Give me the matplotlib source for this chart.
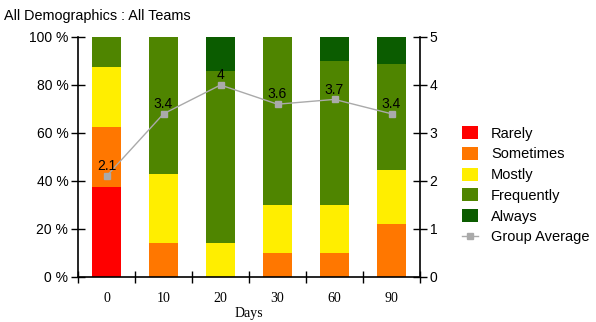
import matplotlib
matplotlib.use("Agg")
import matplotlib.pyplot as plt
import numpy as np
from matplotlib.lines import Line2D
from matplotlib.patches import Patch

days = ["0", "10", "20", "30", "60", "90"]
levels = ["Rarely", "Sometimes", "Mostly", "Frequently", "Always"]
rarely = [37.5, 0, 0, 0, 0, 0]
sometimes = [25.0, 14.3, 0, 10.0, 10.0, 22.2]
mostly = [25.0, 28.6, 14.3, 20.0, 20.0, 22.2]
frequently = [12.5, 57.1, 71.4, 70.0, 60.0, 44.5]
always = [0, 0, 14.3, 0, 10.0, 11.1]
group_avg = [2.1, 3.4, 4.0, 3.6, 3.7, 3.4]
avg_labels = ["2.1", "3.4", "4", "3.6", "3.7", "3.4"]

colors = ["#FF0000", "#FF7700", "#FFEE00", "#4F8500", "#0B5C00"]
line_color = "#AAAAAA"

plt.rcParams["font.family"] = ["Liberation Sans", "DejaVu Sans"]

fig = plt.figure(figsize=(5.96, 3.22), dpi=100)
ax = fig.add_axes([78 / 596, 1 - 277 / 322, 342 / 596, 240 / 322])

x = np.arange(len(days))
bottom = np.zeros(len(days))
for name, vals, c in zip(levels, [rarely, sometimes, mostly, frequently, always], colors):
    ax.bar(x, vals, width=0.5, bottom=bottom, color=c, label=name, zorder=2)
    bottom += np.array(vals)

ax.set_xlim(-0.5, len(days) - 0.5)
ax.set_ylim(0, 100)
ax.set_yticks(np.arange(0, 101, 20))
ax.set_yticklabels([f"{v} %" for v in range(0, 101, 20)], fontsize=10)
ax.set_xticks(x)
ax.set_xticklabels(days, fontfamily="Liberation Serif", fontsize=10)
ax.tick_params(axis="x", length=0, pad=11)
ax.set_xticks(np.arange(-0.5, len(days), 1), minor=True)
ax.tick_params(axis="x", which="minor", direction="inout", length=8, width=1)
ax.tick_params(axis="y", direction="inout", length=10, width=1, pad=2)
ax.spines["top"].set_visible(False)
ax.spines["right"].set_visible(False)
for s in ("left", "bottom"):
    ax.spines[s].set_linewidth(1.2)
ax.set_xlabel("Days", fontfamily="Liberation Serif", fontsize=10, labelpad=1)

ax2 = ax.twinx()
ax2.set_ylim(0, 5)
ax2.set_yticks(range(0, 6))
ax2.tick_params(axis="y", direction="inout", length=10, width=1, labelsize=10, pad=2)
ax2.spines["top"].set_visible(False)
ax2.spines["left"].set_visible(False)
ax2.spines["bottom"].set_visible(False)
ax2.spines["right"].set_linewidth(1.2)
ax2.plot(x, group_avg, color=line_color, lw=1, marker="s", markersize=5, zorder=3)
for xi, yi, lab in zip(x, group_avg, avg_labels):
    ax2.text(xi, yi + 0.06, lab, ha="center", va="bottom", fontsize=10, color="black")

fig.text(4 / 596, 1 - 16 / 322, "All Demographics : All Teams", fontsize=10.4, va="center", ha="left")

handles = [Patch(facecolor=c, edgecolor="none") for c in colors]
handles.append(Line2D([], [], color=line_color, lw=1, marker="s", markersize=5))
fig.legend(handles, levels + ["Group Average"], loc="upper left",
           bbox_to_anchor=(462 / 596, 1 - 126 / 322), frameon=False, fontsize=10.5,
           borderpad=0, borderaxespad=0,
           handlelength=1.1, handleheight=1.0, labelspacing=0.43, handletextpad=0.9)

fig.savefig("out.png", dpi=100)
